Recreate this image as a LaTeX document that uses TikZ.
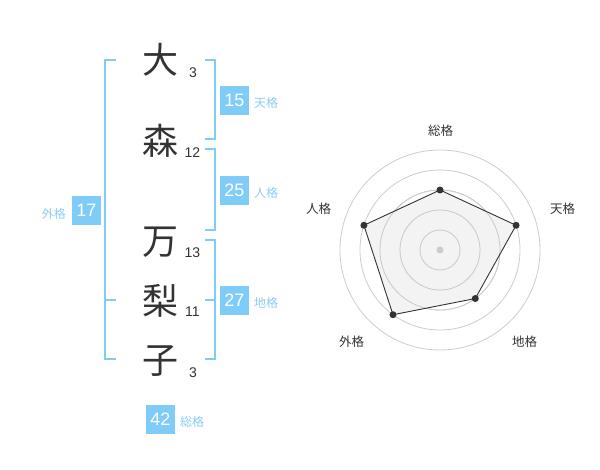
\documentclass[tikz,border=0pt]{standalone}
\usepackage{fontspec}
\setmainfont{Liberation Sans}
\newfontfamily\cjk{Noto Sans CJK JP}
\usepackage{tikz}
\usetikzlibrary{positioning,calc}
\definecolor{kakublue}{HTML}{80CCF9}
\definecolor{kakutext}{HTML}{8ACDF2}
\definecolor{inkgray}{HTML}{333333}
\definecolor{ringgray}{HTML}{CCCCCC}
\definecolor{areagray}{HTML}{F0F0F0}

\begin{document}
\begin{tikzpicture}[x=1pt, y=1pt,
kanji/.style={inner sep=0pt, text=inkgray, font=\cjk\fontsize{36}{36}\selectfont},
stroke/.style={inner sep=0pt, text=inkgray, font=\fontsize{14}{14}\selectfont},
numbox/.style={fill=kakublue, text=white, minimum size=29pt, inner sep=0pt, font=\fontsize{18}{18}\selectfont},
kaku/.style={inner sep=0pt, text=kakutext, font=\cjk\fontsize{12}{12}\selectfont},
axis/.style={inner sep=0pt, text=inkgray, font=\cjk\fontsize{12.5}{12.5}\selectfont},
bracket/.style={kakublue, line width=2pt},
ring/.style={ringgray, line width=0.8pt},
dot/.style={circle, fill=inkgray, minimum size=7pt, inner sep=0pt},
]
\useasboundingbox (0, 0) rectangle (600, -470);

%Name characters
\node[kanji] (c1) at (160,  -60) {大};
\node[kanji] (c2) at (160, -141) {森};
\node[kanji] (c3) at (160, -242) {万};
\node[kanji] (c4) at (160, -301) {梨};
\node[kanji] (c5) at (160, -361) {子};

%Stroke counts
\node[stroke] (s1) at (193,   -72.5) {3};
\node[stroke] (s2) at (192.5, -153)  {12};
\node[stroke] (s3) at (192.5, -252.5) {13};
\node[stroke] (s4) at (192.5, -312)  {11};
\node[stroke] (s5) at (193,   -372.5) {3};

%Right brackets
\draw[bracket] (205,  -60) -- (215,  -60) -- (215, -139) -- (205, -139);
\draw[bracket] (205, -149) -- (215, -149) -- (215, -230) -- (205, -230);
\draw[bracket] (205, -240) -- (215, -240) -- (215, -359) -- (205, -359);
\draw[bracket] (205, -300) -- (215, -300);

%Left bracket
\draw[bracket] (116,  -60) -- (105,  -60) -- (105, -359) -- (116, -359);
\draw[bracket] (105, -300) -- (116, -300);

%Number boxes
\node[numbox] (ten) at (234.5, -100.5) {15};
\node[numbox] (jin) at (234.5, -190.5) {25};
\node[numbox] (chi) at (234.5, -300.5) {27};
\node[numbox] (gai) at (86.5,  -210.5) {17};
\node[numbox] (sou) at (160.5, -419)   {42};

%Box labels
\node[kaku, anchor=west] at (254, -103) {天格};
\node[kaku, anchor=west] at (254, -193) {人格};
\node[kaku, anchor=west] at (254, -303) {地格};
\node[kaku, anchor=east] at (66,  -213.5) {外格};
\node[kaku, anchor=west] at (180, -422) {総格};

%Radar rings
\coordinate (o) at (440, -250);
\draw[ring] (o) circle (20);
\draw[ring] (o) circle (40);
\draw[ring] (o) circle (60);
\draw[ring] (o) circle (80);
\draw[ring] (o) circle (100);

%Radar values
\coordinate (p1) at ($(o)+(90:60)$);
\coordinate (p2) at ($(o)+(18:80)$);
\coordinate (p3) at ($(o)+(-54:60)$);
\coordinate (p4) at ($(o)+(-126:80)$);
\coordinate (p5) at ($(o)+(162:80)$);
\fill[areagray, opacity=0.8] (p1) -- (p2) -- (p3) -- (p4) -- (p5) -- cycle;
\draw[ring] (o) circle (20);
\draw[ring] (o) circle (40);
\draw[ring] (o) circle (60);
\draw[inkgray, line width=0.9pt] (p1) -- (p2) -- (p3) -- (p4) -- (p5) -- cycle;
\node[dot] (d1) at (p1) {};
\node[dot] (d2) at (p2) {};
\node[dot] (d3) at (p3) {};
\node[dot] (d4) at (p4) {};
\node[dot] (d5) at (p5) {};
\node[dot, fill=ringgray] (d0) at (o) {};

%Radar labels
\node[axis] (a1) at (440.5, -130.5) {総格};
\node[axis] (a2) at (562.5, -208.5) {天格};
\node[axis] (a3) at (524.5, -342)   {地格};
\node[axis] (a4) at (351.5, -342)   {外格};
\node[axis] (a5) at (318.5, -208.5) {人格};
\end{tikzpicture}
\end{document}
